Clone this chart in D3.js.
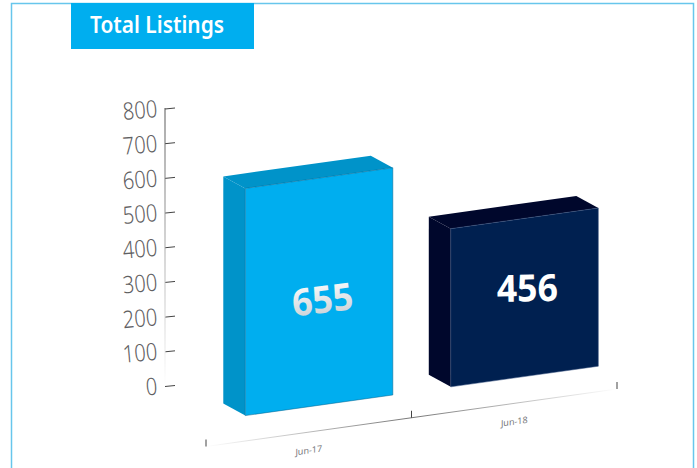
<!DOCTYPE html>
<html>
<head>
<meta charset="utf-8">
<script src="https://cdn.jsdelivr.net/npm/d3@7/dist/d3.min.js"></script>
<style>
  body { margin: 0; background: #fff; }
  svg { display: block; font-family: "Noto Sans", sans-serif; }
</style>
</head>
<body>
<svg id="chart"></svg>
<script>
const periods = ["Jun-17", "Jun-18"];
const listings = [655, 456];
const yTicks = [0, 100, 200, 300, 400, 500, 600, 700, 800];
const titleText = "Total Listings";

const frontColors = ["#00aeef", "#002050"];
const sideColors = ["#0093c9", "#00072c"];
const edgeColors = ["#05618a", "#3a5580"];

const width = 697;
const height = 468;

const svg = d3.select("#chart")
    .attr("width", width)
    .attr("height", height);

const defs = svg.append("defs");

// axis lines fade out at the ends
const xFade = defs.append("linearGradient").attr("id", "xFade")
    .attr("gradientUnits", "userSpaceOnUse")
    .attr("x1", 206).attr("x2", 617).attr("y1", 0).attr("y2", 0);
xFade.append("stop").attr("offset", "0").attr("stop-color", "#fff");
xFade.append("stop").attr("offset", "0.5").attr("stop-color", "#777");
xFade.append("stop").attr("offset", "1").attr("stop-color", "#fff");

const yFade = defs.append("linearGradient").attr("id", "yFade")
    .attr("gradientUnits", "userSpaceOnUse")
    .attr("x1", 0).attr("x2", 0).attr("y1", 108).attr("y2", 385);
yFade.append("stop").attr("offset", "0").attr("stop-color", "#555");
yFade.append("stop").attr("offset", "1").attr("stop-color", "#fff");

const labelFade = defs.append("linearGradient").attr("id", "labelFade")
    .attr("x1", 0).attr("x2", 0).attr("y1", 0).attr("y2", 1);
labelFade.append("stop").attr("offset", "0.1").attr("stop-color", "#fff");
labelFade.append("stop").attr("offset", "0.95").attr("stop-color", "#c4ccd2");

// frame, open at the bottom
svg.append("path")
    .attr("d", "M11.5,468V3.5H693.5V468")
    .attr("fill", "none")
    .attr("stroke", "#67c6ec")
    .attr("stroke-width", 1.5);

svg.append("rect")
    .attr("x", 71).attr("y", 3)
    .attr("width", 183).attr("height", 46)
    .attr("fill", "#00aeef");

svg.append("text")
    .attr("x", 90).attr("y", 33)
    .attr("fill", "#fff")
    .attr("font-size", 23)
    .attr("font-weight", 600)
    .attr("textLength", 134)
    .attr("lengthAdjust", "spacingAndGlyphs")
    .text(titleText);

const y = d3.scaleLinear().domain([0, 800]).range([385.5, 108]);

const x = d3.scaleBand()
    .domain(periods)
    .range([206, 617])
    .paddingInner(0.175)
    .paddingOuter(0.0875);

// the floor runs uphill to the right
const floor = d3.scaleLinear().domain([206, 617]).range([446.5, 389]);
const floorSlope = (floor(617) - floor(206)) / (617 - 206);

const depthX = 22;
const depthY = 12;
const floorGap = 25.4;

// y axis
const yAxis = svg.append("g")
    .attr("transform", "translate(165,0)")
    .call(d3.axisRight(y).tickValues(yTicks).tickSize(10).tickFormat(d3.format("d")));
yAxis.select(".domain").remove();
yAxis.selectAll(".tick line")
    .attr("y1", 0.5).attr("y2", -0.5)
    .attr("stroke", "#444");
yAxis.selectAll(".tick text")
    .attr("x", 0).attr("y", 0).attr("dy", null)
    .attr("text-anchor", "end")
    .attr("transform", "translate(-7,8.5) rotate(-5) scale(0.84,1)")
    .attr("fill", "#5f6062")
    .attr("font-size", 24)
    .attr("font-weight", 300)
    .attr("font-family", "'Noto Sans', sans-serif");
svg.append("rect")
    .attr("x", 164.5).attr("y", 108)
    .attr("width", 1).attr("height", 277)
    .attr("fill", "url(#yFade)");

// x axis, sheared along the floor
svg.append("line")
    .attr("x1", 206).attr("y1", floor(206))
    .attr("x2", 617).attr("y2", floor(617))
    .attr("stroke", "url(#xFade)");

const boundaries = [x.range()[0], x.range()[0] + x.step(), x.range()[1]];
svg.append("g").selectAll("line")
    .data(boundaries)
    .enter().append("line")
    .attr("x1", d => d).attr("x2", d => d)
    .attr("y1", d => floor(d) - 7).attr("y2", d => floor(d))
    .attr("stroke", "#444");

const xAxis = svg.append("g")
    .attr("transform", `matrix(1,${floorSlope},0,1,0,${floor(0)})`)
    .call(d3.axisBottom(x).tickSize(0));
xAxis.select(".domain").remove();
xAxis.selectAll(".tick text")
    .attr("y", 15)
    .attr("fill", "#77787b")
    .attr("font-size", 9)
    .attr("font-family", "'Noto Sans', sans-serif");

// bars: three faces each
const bars = svg.append("g").selectAll("g")
    .data(listings)
    .enter().append("g");

const geom = (d, i) => {
    const left = x(periods[i]) + depthX - 0.7;
    const right = x(periods[i]) + x.bandwidth() - 0.7;
    const h = y(0) - y(d);
    return {
        left, right, h,
        bl: floor(left) - floorGap,
        br: floor(right) - floorGap
    };
};

bars.append("path") // side
    .attr("d", (d, i) => {
        const g = geom(d, i);
        return `M${g.left},${g.bl}L${g.left - depthX},${g.bl - depthY}V${g.bl - depthY - g.h}L${g.left},${g.bl - g.h}Z`;
    })
    .attr("fill", (d, i) => sideColors[i]);

bars.append("path") // top
    .attr("d", (d, i) => {
        const g = geom(d, i);
        return `M${g.left},${g.bl - g.h}L${g.left - depthX},${g.bl - depthY - g.h}L${g.right - depthX},${g.br - depthY - g.h}L${g.right},${g.br - g.h}Z`;
    })
    .attr("fill", (d, i) => sideColors[i]);

bars.append("path") // front
    .attr("d", (d, i) => {
        const g = geom(d, i);
        return `M${g.left},${g.bl}L${g.right},${g.br}V${g.br - g.h}L${g.left},${g.bl - g.h}Z`;
    })
    .attr("fill", (d, i) => frontColors[i])
    .attr("stroke", (d, i) => edgeColors[i])
    .attr("stroke-width", 0.5);

bars.append("text")
    .attr("text-anchor", "middle")
    .attr("transform", (d, i) => {
        const g = geom(d, i);
        const cx = (g.left + g.right) / 2;
        const cy = (g.bl + g.br) / 2 - g.h / 2;
        return i === 0
            ? `translate(${cx + 5},${cy + 21}) rotate(-7) scale(0.95,1)`
            : `translate(${cx + 3},${cy + 4}) rotate(-1) scale(0.95,1)`;
    })
    .attr("fill", (d, i) => i === 0 ? "url(#labelFade)" : "#fff")
    .attr("font-size", 37.5)
    .attr("font-weight", 700)
    .text(d => d);
</script>
</body>
</html>
